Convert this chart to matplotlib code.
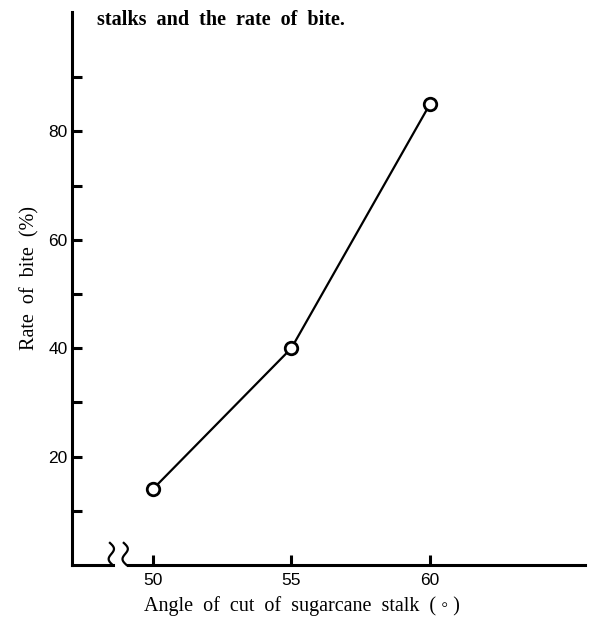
import numpy as np
import matplotlib.pyplot as plt
import matplotlib.transforms as mtransforms

plt.rcParams['font.family'] = ['Liberation Serif', 'DejaVu Serif']

# data
angle = [50, 55, 60]
bite_rate = [14, 40, 85]
x_ticks = [50, 55, 60]
y_ticks = [20, 40, 60, 80]
y_minor = [10, 30, 50, 70, 90]

fig = plt.figure(figsize=(6.07, 6.19), dpi=100)
ax = fig.add_axes([0.1186, 0.0872, 0.845, 0.893])

ax.plot(angle, bite_rate, color='black', lw=1.6, marker='o', ms=9,
        mfc='white', mec='black', mew=2.0, zorder=3)

ax.set_xlim(47.08, 65.6)
ax.set_ylim(0, 102)

for s in ['top', 'right', 'bottom']:
    ax.spines[s].set_visible(False)
ax.spines['left'].set_linewidth(2.2)

ax.set_xticks(x_ticks)
ax.set_yticks(y_ticks)
ax.set_yticks(y_minor, minor=True)
ax.tick_params(axis='both', direction='in', width=2.2, length=7)
ax.tick_params(axis='y', which='minor', direction='in', width=2.2, length=7)
ax.tick_params(axis='x', pad=6)
ax.tick_params(axis='y', pad=3)
for lab in ax.get_xticklabels() + ax.get_yticklabels():
    lab.set_family(['Liberation Sans', 'DejaVu Sans'])
    lab.set_fontsize(12.5)

# x axis with break marks
trans = mtransforms.blended_transform_factory(ax.transData, ax.transAxes)
ax.plot([47.08, 48.55], [0, 0], color='black', lw=2.2, transform=trans, clip_on=False)
ax.plot([49.1, 65.6], [0, 0], color='black', lw=2.2, transform=trans, clip_on=False)
t = np.linspace(0, 1, 40)
for x0 in [48.45, 48.95]:
    xs = x0 + 0.12 * np.sin(2 * np.pi * t) + 0.1 * t
    ys = 0.04 * (1 - t)
    ax.plot(xs, ys, color='black', lw=1.6, transform=trans, clip_on=False)

ax.set_xlabel('Angle  of  cut  of  sugarcane  stalk  ( \u25e6 )', fontsize=14.5)
ax.xaxis.set_label_coords(0.448, -0.057)
ax.set_ylabel('Rate  of  bite  (%)', fontsize=14.5)
ax.yaxis.set_label_coords(-0.064, 0.52)

fig.text(0.16, 0.967, 'stalks  and  the  rate  of  bite.', fontsize=14.5,
         fontweight='bold', ha='left', va='center')

fig.savefig('out.png', dpi=100)
